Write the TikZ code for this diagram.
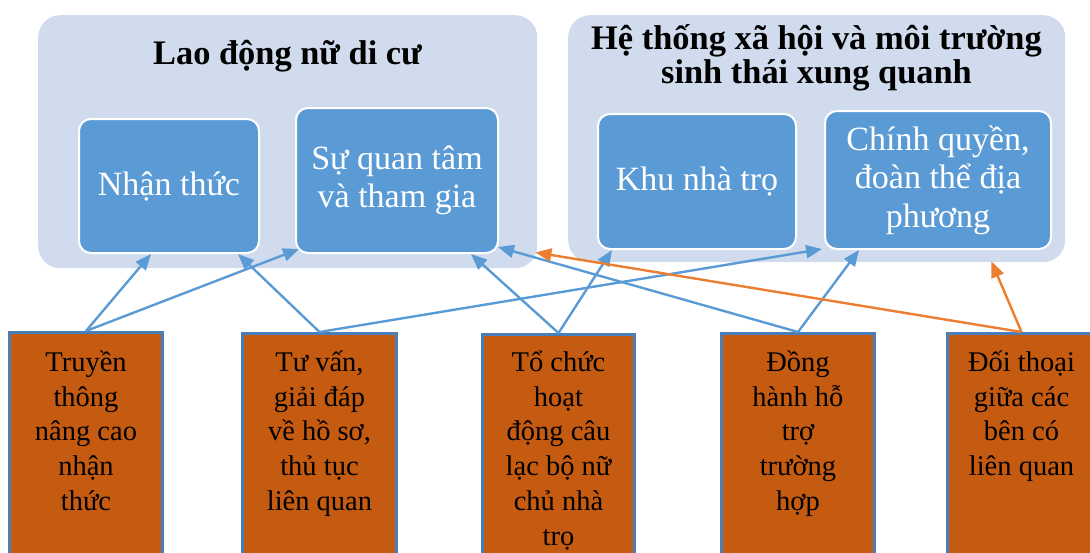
\documentclass[tikz,border=0pt]{standalone}
\usepackage{fontspec}
\setmainfont{Liberation Serif}
\usetikzlibrary{arrows.meta}
\definecolor{panel}{RGB}{208,220,238}
\definecolor{innerblue}{RGB}{91,155,213}
\definecolor{rust}{RGB}{197,90,17}
\definecolor{edgeblue}{RGB}{74,126,187}
\definecolor{linkblue}{RGB}{91,155,213}
\definecolor{linkorange}{RGB}{237,125,49}
\newcommand{\myskipfix}{\lineskiplimit-100pt\relax}
\begin{document}
\begin{tikzpicture}[x=1pt,y=-1pt,
  panelbox/.style={fill=panel, draw=none, rounded corners=22pt, anchor=north west, inner sep=0pt},
  innerbox/.style={fill=innerblue, draw=white, line width=2pt, rounded corners=12pt, anchor=north west,
    inner sep=0pt, text=white, align=center,
    font=\fontsize{34}{38.5}\selectfont\myskipfix},
  actbox/.style={fill=rust, draw=edgeblue, line width=3pt, anchor=north west, inner sep=0pt, minimum height=260pt},
  acttext/.style={anchor=north, inner sep=0pt, align=center, text=black,
    font=\fontsize{28.5}{34.8}\selectfont\myskipfix},
  paneltitle/.style={font=\bfseries\fontsize{34.4}{34}\selectfont\myskipfix, align=center, inner sep=0pt},
  blink/.style={draw=linkblue, line width=2.4pt, -{Triangle[length=16pt,width=13pt]}},
  olink/.style={draw=linkorange, line width=2.4pt, -{Triangle[length=16pt,width=13pt]}}
]
\useasboundingbox (0,0) rectangle (1090,552);
\clip (0,0) rectangle (1090,552);

% panels
\node[panelbox, minimum width=499pt, minimum height=253pt] (lp) at (38,15) {};
\node[panelbox, minimum width=497pt, minimum height=247pt] (rp) at (568,15) {};
\node[paneltitle, anchor=base] (tl) at (287.5,64) {Lao động nữ di cư};
\node[paneltitle, anchor=north] (tr) at (816.5,13) {\rule{0pt}{36pt}Hệ thống xã hội và môi trường\\sinh thái xung quanh};

% inner boxes
\node[innerbox, minimum width=180pt, minimum height=134pt] (nhan) at (78,118) {Nhận thức};
\node[innerbox, minimum width=202pt, minimum height=145pt] (su) at (295,107) {Sự quan tâm\\và tham gia};
\node[innerbox, minimum width=198pt, minimum height=135pt] (khu) at (597,113) {Khu nhà trọ};
\node[innerbox, minimum width=226pt, minimum height=138pt] (chinh) at (824,110) {Chính quyền,\\đoàn thể địa\\phương};

% activity boxes
\node[actbox, minimum width=153pt] (b1) at (8,331) {};
\node[actbox, minimum width=154pt] (b2) at (241,332) {};
\node[actbox, minimum width=152pt] (b3) at (481,333) {};
\node[actbox, minimum width=153pt] (b4) at (720,332) {};
\node[actbox, minimum width=148pt] (b5) at (946,332) {};

\node[acttext] (t1) at ([yshift=-10pt]b1.north) {\rule{0pt}{30pt}Truyền\\thông\\nâng cao\\nhận\\thức};
\node[acttext] (t2) at ([yshift=-9pt]b2.north) {\rule{0pt}{30pt}Tư vấn,\\giải đáp\\về hồ sơ,\\thủ tục\\liên quan};
\node[acttext] (t3) at ([yshift=-8pt]b3.north) {\rule{0pt}{30pt}Tổ chức\\hoạt\\động câu\\lạc bộ nữ\\chủ nhà\\trọ};
\node[acttext] (t4) at ([yshift=-9pt]b4.north) {\rule{0pt}{30pt}Đồng\\hành hỗ\\trợ\\trường\\hợp};
\node[acttext] (t5) at ([yshift=-9pt]b5.north) {\rule{0pt}{30pt}Đối thoại\\giữa các\\bên có\\liên quan};

% connectors
\draw[blink] (b1.north) -- ([xshift=-18pt]nhan.south);
\draw[blink] (b1.north) -- ([xshift=4pt,yshift=5pt]su.south west);
\draw[blink] (b2.north) -- ([xshift=-22pt]nhan.south east);
\draw[blink] (b2.north) -- ([xshift=-2pt,yshift=1pt]chinh.south west);
\draw[blink] (b3.north) -- ([xshift=-28pt]su.south east);
\draw[blink] (b3.north) -- ([xshift=15pt]khu.south west);
\draw[blink] (b4.north) -- ([xshift=-1pt,yshift=7pt]su.south east);
\draw[blink] (b4.north) -- ([xshift=35pt]chinh.south west);
\draw[olink] (b5.north) -- ([xshift=-2pt,yshift=16pt]lp.south east);
\draw[olink] (b5.north) -- ([xshift=-74pt,yshift=1pt]rp.south east);
\end{tikzpicture}
\end{document}
